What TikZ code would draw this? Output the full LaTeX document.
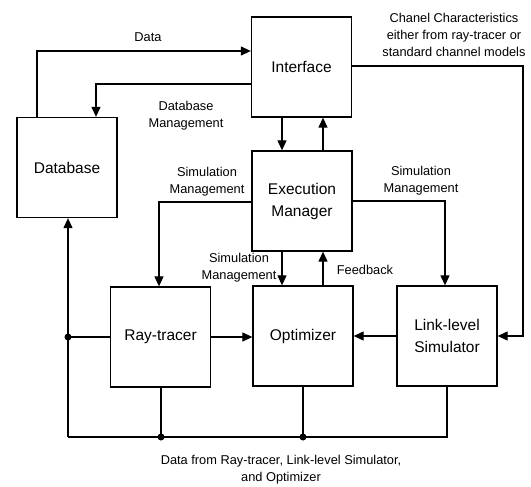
\documentclass[tikz,border=0pt]{standalone}
\usepackage{fontspec}
\setmainfont{Liberation Sans}
\usetikzlibrary{arrows.meta}
\begin{document}
\begin{tikzpicture}[x=1pt,y=-1pt,
  box/.style={draw,line width=1.3pt,minimum width=100pt,minimum height=100pt,align=center,inner sep=0pt,font=\fontsize{15.5}{22}\selectfont},
  lbl/.style={align=center,inner sep=0pt,font=\fontsize{12.8}{17}\selectfont},
  wire/.style={line width=1.2pt},
  arr/.style={wire,-{Triangle[length=10pt,width=9pt]}},
  dot/.style={circle,fill,inner sep=0pt,minimum size=7pt}]
\useasboundingbox (0,0) rectangle (531,487);
% boxes
\node[box] (intf) at (301.5,67) {Interface};
\node[box] (db) at (67,167.5) {Database};
\node[box] (exec) at (302,201) {Execution\\Manager};
\node[box] (ray) at (160.5,337) {Ray-tracer};
\node[box] (opt) at (303,336) {Optimizer};
\node[box] (link) at (447,336) {Link-level\\Simulator};
% helper coordinates
\coordinate (d1) at (37,51);
\coordinate (m1) at (96,84);
\coordinate (xa) at (282,0);
\coordinate (xb) at (323,0);
\coordinate (ch1) at (523,66);
\coordinate (ch2) at (523,336);
\coordinate (s1) at (159,202);
\coordinate (s2) at (445,201);
\coordinate (b0) at (68,437);
\coordinate (b1) at (161,437);
\coordinate (b2) at (303,437);
\coordinate (b3) at (447,437);
\coordinate (j) at (68,337);
% connectors
\draw[arr] (db.north -| d1) -- (d1) -- (intf.west |- d1);
\draw[arr] (intf.west |- m1) -- (m1) -- (db.north -| m1);
\draw[arr] (intf.south -| xa) -- (exec.north -| xa);
\draw[arr] (exec.north -| xb) -- (intf.south -| xb);
\draw[arr] (intf.east |- ch1) -- (ch1) -- (ch2) -- (link.east |- ch2);
\draw[arr] (exec.west |- s1) -- (s1) -- (ray.north -| s1);
\draw[arr] (exec.east |- s2) -- (s2) -- (link.north -| s2);
\draw[arr] (exec.south -| xa) -- (opt.north -| xa);
\draw[arr] (opt.north -| xb) -- (exec.south -| xb);
\draw[arr] (ray.east) -- (opt.west |- ray.east);
\draw[arr] (link.west) -- (opt.east);
\draw[wire] (ray.south -| b1) -- (b1);
\draw[wire] (opt.south -| b2) -- (b2);
\draw[wire] (link.south -| b3) -- (b3) -- (b0);
\draw[arr] (b0) -- (db.south -| b0);
\draw[wire] (j) -- (ray.west |- j);
\node[dot] (dj) at (j) {};
\node[dot] (db1) at (b1) {};
\node[dot] (db2) at (b2) {};
% labels
\node[lbl] (ldata) at (148,37) {Data};
\node[lbl] (ldbm) at (186,116) {Database\\Management};
\node[lbl] (lch) at (454,35) {Chanel Characteristics\\either from ray-tracer or\\standard channel models};
\node[lbl] (lsl) at (207,182) {Simulation\\Management};
\node[lbl] (lsr) at (421,181) {Simulation\\Management};
\node[lbl] (lsm) at (239,268) {Simulation\\Management};
\node[lbl] (lfb) at (365,270) {Feedback};
\node[lbl] (lcap) at (281,470) {Data from Ray-tracer, Link-level Simulator,\\and Optimizer};
\end{tikzpicture}
\end{document}
